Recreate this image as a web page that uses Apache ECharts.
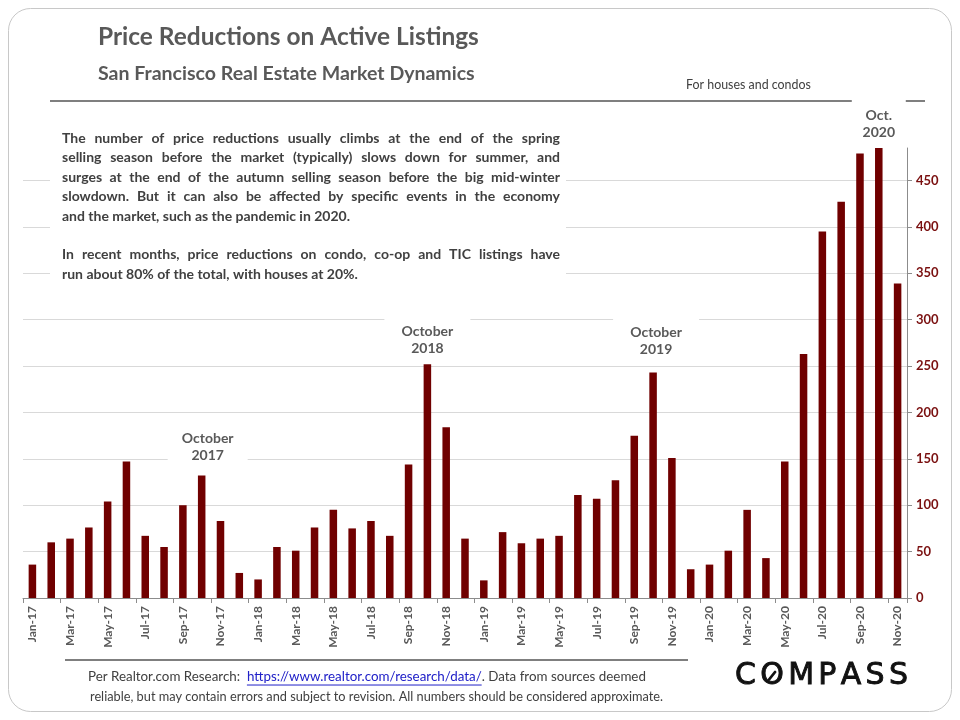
<!DOCTYPE html>
<html><head><meta charset="utf-8">
<script src="https://cdn.jsdelivr.net/npm/echarts@6/dist/echarts.min.js"></script>
<style>html,body{margin:0;padding:0;background:#fff}#c{width:960px;height:720px}</style>
</head><body><div id="c"></div>
<script>
const categories = ['Jan-17','Feb-17','Mar-17','Apr-17','May-17','Jun-17','Jul-17','Aug-17','Sep-17','Oct-17','Nov-17','Dec-17',
  'Jan-18','Feb-18','Mar-18','Apr-18','May-18','Jun-18','Jul-18','Aug-18','Sep-18','Oct-18','Nov-18','Dec-18',
  'Jan-19','Feb-19','Mar-19','Apr-19','May-19','Jun-19','Jul-19','Aug-19','Sep-19','Oct-19','Nov-19','Dec-19',
  'Jan-20','Feb-20','Mar-20','Apr-20','May-20','Jun-20','Jul-20','Aug-20','Sep-20','Oct-20','Nov-20'];
const priceReductions = [36,60,64,76,104,147,67,55,100,132,83,27,
  20,55,51,76,95,75,83,67,144,252,184,64,
  19,71,59,64,67,111,107,127,175,243,151,31,
  36,51,95,43,147,263,395,427,479,485,339];
const yTickValues = [0,50,100,150,200,250,300,350,400,450];
const yMax = 485;
const annotationCats = ['Oct-17','Oct-18','Oct-19','Oct-20'];
const annotationTexts = ['October\n2017','October\n2018','October\n2019','Oct.\n2020'];

const titleText = 'Price Reductions on Active Listings';
const subtitleText = 'San Francisco Real Estate Market Dynamics';
const noteText = 'For houses and condos';
const bodyLines = [
  ['The number of price reductions usually climbs at the end of the spring', true],
  ['selling season before the market (typically) slows down for summer, and', true],
  ['surges at the end of the autumn selling season before the big mid-winter', true],
  ['slowdown. But it can also be affected by specific events in the economy', true],
  ['and the market, such as the pandemic in 2020.', false],
  ['In recent months, price reductions on condo, co-op and TIC listings have', true],
  ['run about 80% of the total, with houses at 20%.', false]
];
const footer1 = ['Per Realtor.com Research:  ', 'https://www.realtor.com/research/data/', '. Data from sources deemed'];
const footer2 = 'reliable, but may contain errors and subject to revision. All numbers should be considered approximate.';
const logoText = 'COMPASS';

const BODY = 'Lato, "Open Sans", sans-serif';
const LOGO = '"DejaVu Sans", sans-serif';

const mctx = document.createElement('canvas').getContext('2d');
function measure(t, size, weight, fam){ mctx.font = weight + ' ' + size + 'px ' + fam; return mctx.measureText(t).width; }
function fit(t, width, weight, fam){ return 100 * width / measure(t, 100, weight, fam); }

const chart = echarts.init(document.getElementById('c'), null, {renderer:'canvas'});
const option = {
  animation:false,
  backgroundColor:'#ffffff',
  grid:{left:23, right:53, top:148, bottom:122},
  xAxis:{type:'category', data:categories, boundaryGap:true,
    axisLine:{lineStyle:{color:'#8c8c8c', width:1}},
    axisTick:{show:true, interval:1, length:5, lineStyle:{color:'#8c8c8c'}},
    axisLabel:{interval:1, rotate:90, margin:8, color:'#595959', fontWeight:'bold', fontSize:12, fontFamily:BODY},
    splitLine:{show:false}},
  yAxis:{type:'value', position:'right', min:0, max:yMax, interval:50,
    axisLine:{show:true, lineStyle:{color:'#8c8c8c'}},
    axisTick:{show:true, length:5, lineStyle:{color:'#8c8c8c'}, customValues:yTickValues},
    axisLabel:{customValues:yTickValues, color:'#7a1010', fontWeight:'bold', fontSize:13, fontFamily:BODY, margin:9},
    splitLine:{show:true, lineStyle:{color:'#d9d9d9', width:1}}},
  series:[{type:'bar', data:priceReductions, barWidth:'40%', itemStyle:{color:'#700000'}}]
};
chart.setOption(option);

const g = [];
g.push({type:'rect', shape:{x:8.5, y:8.5, width:943, height:703, r:22}, style:{fill:'none', stroke:'#c8c8c8', lineWidth:1}, z:1});
g.push({type:'line', shape:{x1:50, y1:101, x2:925, y2:101}, style:{stroke:'#7f7f7f', lineWidth:2}, z:50});
g.push({type:'line', shape:{x1:65, y1:660, x2:688, y2:660}, style:{stroke:'#7f7f7f', lineWidth:2}, z:50});

function txt(t, x, y, size, weight, fam, color, align){
  return {type:'text', z:120, style:{text:t, x:x, y:y, fontSize:size, fontWeight:weight, fontFamily:fam, fill:color,
    textAlign:align||'left', textVerticalAlign:'middle', verticalAlign:'middle'}};
}
g.push(txt(titleText, 98, 37, fit(titleText, 381, 'bold', BODY), 'bold', BODY, '#595959'));
g.push(txt(subtitleText, 98, 74, fit(subtitleText, 377, 'bold', BODY), 'bold', BODY, '#595959'));
g.push(txt(noteText, 686, 85, fit(noteText, 125, 'normal', BODY), 'normal', BODY, '#404040'));

g.push({type:'rect', shape:{x:50, y:120, width:516, height:172}, style:{fill:'#ffffff'}, z:100});
const bodySize = 14, bx0 = 62, bx1 = 560;
const bodyY = [138, 157.5, 177, 196.5, 216, 254.5, 274];
bodyLines.forEach(function(l, i){
  const words = l[0].split(' ');
  const ws = words.map(function(w){ return measure(w, bodySize, 'bold', BODY); });
  const sum = ws.reduce(function(a,b){return a+b;}, 0);
  const gap = l[1] ? (bx1 - bx0 - sum) / (words.length - 1) : measure(' ', bodySize, 'bold', BODY);
  let x = bx0;
  words.forEach(function(w, k){
    g.push(txt(w, x, bodyY[i], bodySize, 'bold', BODY, '#404040'));
    x += ws[k] + gap;
  });
});

(function(){
  const full = footer1.join('');
  const s1 = fit(full, 558, 'normal', BODY);
  let x = 88;
  footer1.forEach(function(seg, k){
    const w = measure(seg, s1, 'normal', BODY);
    g.push(txt(seg, x, 677, s1, 'normal', BODY, k === 1 ? '#2020c8' : '#404040'));
    if (k === 1) g.push({type:'line', z:120, shape:{x1:x, y1:677 + s1*0.6, x2:x + w, y2:677 + s1*0.6}, style:{stroke:'#2020c8', lineWidth:1}});
    x += w;
  });
  const s2 = fit(footer2, 574, 'normal', BODY);
  g.push(txt(footer2, 90, 697, s2, 'normal', BODY, '#404040'));
})();

(function(){
  const size = 30, fam = LOGO, wt = 'normal';
  const letters = logoText.split('');
  const ws = letters.map(function(c){ return measure(c, size, wt, fam); });
  const sum = ws.reduce(function(a,b){return a+b;}, 0);
  const sp = (908 - 735 - sum) / (letters.length - 1);
  let x = 735;
  letters.forEach(function(c, k){
    const el = txt(c, x, 676, size, wt, fam, '#111111');
    el.style.stroke = '#111111';
    el.style.lineWidth = 0.9;
    g.push(el);
    if (c === 'O') {
      const cx = x + ws[k] / 2;
      g.push({type:'line', z:121, shape:{x1:cx - 3, y1:679.5, x2:cx + 3, y2:672}, style:{stroke:'#111111', lineWidth:2.8, lineCap:'round'}});
    }
    x += ws[k] + sp;
  });
})();

const annDx = [6, 0, 3, 0], annDy = [-29, -24, -32, -24.5];
const annBox = [[80, 44], [86, 44], [86, 44], [54, 50]];
annotationCats.forEach(function(cat, i){
  const idx = categories.indexOf(cat);
  const p = chart.convertToPixel({seriesIndex:0}, [idx, priceReductions[idx]]);
  const cx = p[0] + annDx[i], cy = p[1] + annDy[i];
  const bw = annBox[i][0], bh = annBox[i][1];
  const by = i === 3 ? cy - 29 : cy - bh / 2;
  g.push({type:'rect', z:110, shape:{x:cx - bw/2, y:by, width:bw, height:bh}, style:{fill:'#ffffff'}});
  g.push({type:'text', z:120, style:{text:annotationTexts[i], x:cx, y:cy, fontSize:14, fontWeight:'bold', fontFamily:BODY,
    fill:'#595959', textAlign:'center', textVerticalAlign:'middle', verticalAlign:'middle', lineHeight:17}});
});

chart.setOption({graphic:{elements:g}});
</script></body></html>
